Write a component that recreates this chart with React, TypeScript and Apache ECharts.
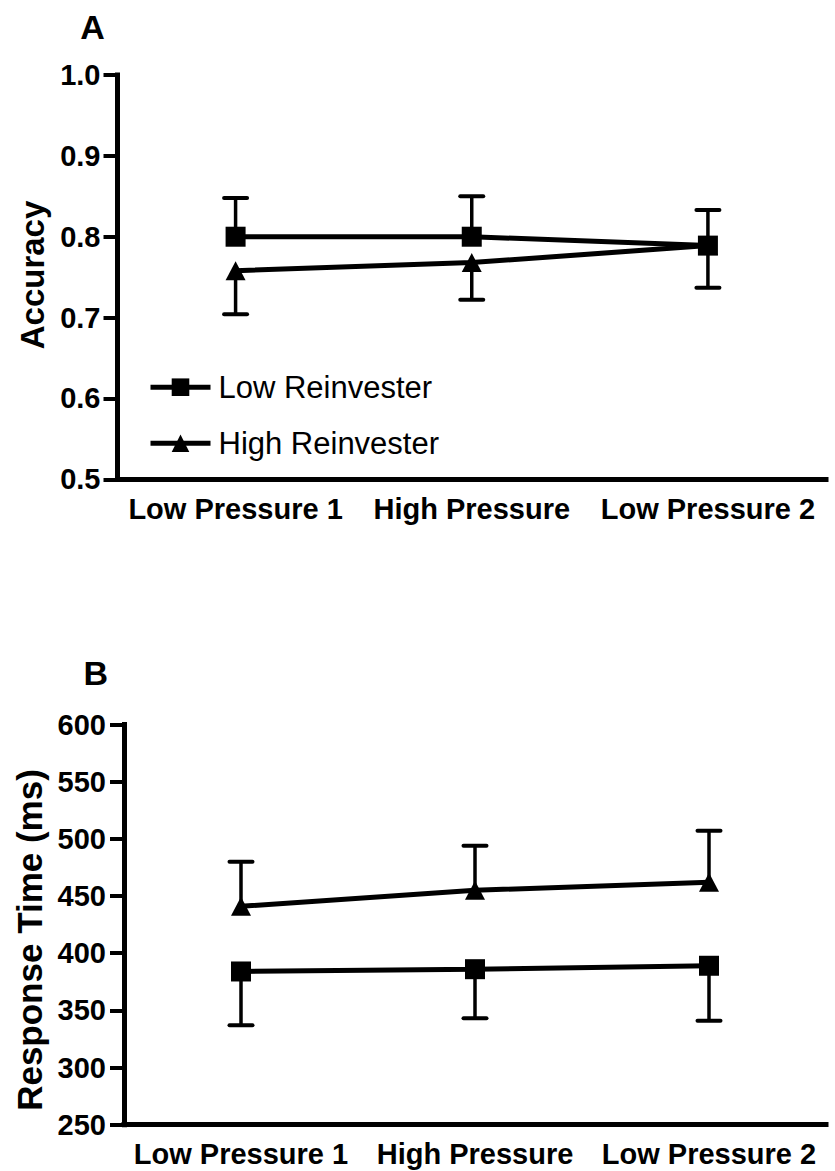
import React, { useEffect, useRef } from "react";
import * as echarts from "echarts";

const FONT = "'Liberation Sans', Arial, sans-serif";

const categories = ["Low Pressure 1", "High Pressure", "Low Pressure 2"];
const seriesNames = ["Low Reinvester", "High Reinvester"];

// Panel A: Accuracy
const accuracyLow = [0.8, 0.8, 0.789];
const accuracyLowErr = [0.048, 0.05, 0.044];
const accuracyHigh = [0.758, 0.768, 0.789];
const accuracyHighErr = [0.054, 0.046, 0.052];
const accuracyAxis = { min: 0.5, max: 1.0, interval: 0.1 };

// Panel B: Response time (ms)
const rtLow = [384, 386, 389];
const rtLowErr = [47, 43, 48];
const rtHigh = [441, 455, 462];
const rtHighErr = [39, 39, 45];
const rtAxis = { min: 250, max: 600, interval: 50 };

// error bar direction (+1 up, -1 down)
const accuracyDir = { low: 1, high: -1 };
const rtDir = { low: -1, high: 1 };

const errData = (means: number[], errs: number[], dir: number) =>
  means.map((m, i) => [i, m, m + dir * errs[i]]);

const renderErr = (params: any, api: any) => {
  const x = api.value(0);
  const m = api.value(1);
  const e = api.value(2);
  const p0 = api.coord([x, m]);
  const p1 = api.coord([x, e]);
  const hw = 11.5;
  return {
    type: "group",
    children: [
      {
        type: "line",
        shape: { x1: p0[0], y1: p0[1], x2: p1[0], y2: p1[1] },
        style: { stroke: "#000", lineWidth: 3.5 },
      },
      {
        type: "line",
        shape: { x1: p1[0] - hw, y1: p1[1], x2: p1[0] + hw, y2: p1[1] },
        style: { stroke: "#000", lineWidth: 4, lineCap: "round" },
      },
    ],
  };
};

const makeX = (gridIndex: number) => ({
  type: "category",
  gridIndex,
  data: categories,
  boundaryGap: true,
  axisLine: { lineStyle: { color: "#000", width: 5, cap: "square" } },
  axisTick: { alignWithLabel: true, length: 14, lineStyle: { color: "#000", width: 4 } },
  axisLabel: {
    interval: 0,
    margin: 15,
    color: "#000",
    fontSize: 29,
    fontWeight: "bold",
    fontFamily: FONT,
  },
  splitLine: { show: false },
});

const makeY = (gridIndex: number, ax: any, margin: number, fmt: (v: number) => string) => ({
  type: "value",
  gridIndex,
  min: ax.min,
  max: ax.max,
  interval: ax.interval,
  axisLine: { show: true, lineStyle: { color: "#000", width: 5, cap: "square" } },
  axisTick: { show: true, length: 14, lineStyle: { color: "#000", width: 4 } },
  axisLabel: {
    margin,
    color: "#000",
    fontSize: 29,
    fontWeight: "bold",
    fontFamily: FONT,
    formatter: fmt,
  },
  splitLine: { show: false },
});

const lineSeries = (name: string, data: number[], idx: number, symbol: string, size: any) => ({
  type: "line",
  name,
  xAxisIndex: idx,
  yAxisIndex: idx,
  data,
  symbol,
  symbolSize: size,
  z: 3,
  itemStyle: { color: "#000" },
  lineStyle: { color: "#000", width: 5 },
});

const errSeries = (name: string, data: number[][], idx: number) => ({
  type: "custom",
  name,
  xAxisIndex: idx,
  yAxisIndex: idx,
  data,
  encode: { x: 0, y: 1 },
  renderItem: renderErr,
  z: 2,
  silent: true,
});

export default function App() {
  const ref = useRef<HTMLDivElement>(null);
  useEffect(() => {
    if (!ref.current) return;
    const chart = echarts.init(ref.current, undefined, { renderer: "svg" });
    chart.setOption({
      animation: false,
      backgroundColor: "#fff",
      textStyle: { fontFamily: FONT },
      grid: [
        { left: 117.5, top: 75, right: 9, height: 404.3, outerBoundsMode: "none" },
        { left: 124, top: 724.5, right: 9, height: 400.2, outerBoundsMode: "none" },
      ],
      xAxis: [makeX(0), makeX(1)],
      yAxis: [
        makeY(0, accuracyAxis, 17, (v: number) => v.toFixed(1)),
        makeY(1, rtAxis, 18, (v: number) => String(Math.round(v))),
      ],
      legend: {
        data: seriesNames,
        orient: "vertical",
        left: 148,
        top: 371.7,
        padding: 0,
        itemGap: 25,
        itemWidth: 60,
        itemHeight: 22,
        lineStyle: { width: 5, color: "#000" },
        textStyle: { fontSize: 31, color: "#000", fontFamily: FONT, padding: [0, 0, 0, 3] },
        selectedMode: false,
      },
      graphic: [
        {
          type: "text",
          x: 92.5,
          y: 26.5,
          style: {
            text: "A",
            fill: "#000",
            font: `bold 34px ${FONT}`,
            textAlign: "center",
            textVerticalAlign: "middle",
            align: "center",
            verticalAlign: "middle",
          },
        },
        {
          type: "text",
          x: 95.7,
          y: 673.2,
          style: {
            text: "B",
            fill: "#000",
            font: `bold 34px ${FONT}`,
            textAlign: "center",
            textVerticalAlign: "middle",
            align: "center",
            verticalAlign: "middle",
          },
        },
        {
          type: "text",
          x: 32,
          y: 275,
          rotation: Math.PI / 2,
          style: {
            text: "Accuracy",
            fill: "#000",
            font: `bold 33px ${FONT}`,
            textAlign: "center",
            textVerticalAlign: "middle",
            align: "center",
            verticalAlign: "middle",
          },
        },
        {
          type: "text",
          x: 29.6,
          y: 940,
          rotation: Math.PI / 2,
          style: {
            text: "Response Time (ms)",
            fill: "#000",
            font: `bold 35px ${FONT}`,
            textAlign: "center",
            textVerticalAlign: "middle",
            align: "center",
            verticalAlign: "middle",
          },
        },
      ],
      series: [
        errSeries("errA-low", errData(accuracyLow, accuracyLowErr, accuracyDir.low), 0),
        errSeries("errA-high", errData(accuracyHigh, accuracyHighErr, accuracyDir.high), 0),
        errSeries("errB-low", errData(rtLow, rtLowErr, rtDir.low), 1),
        errSeries("errB-high", errData(rtHigh, rtHighErr, rtDir.high), 1),
        lineSeries(seriesNames[1], accuracyHigh, 0, "triangle", [20, 19]),
        lineSeries(seriesNames[0], accuracyLow, 0, "rect", 20),
        lineSeries(seriesNames[1], rtHigh, 1, "triangle", [20, 19]),
        lineSeries(seriesNames[0], rtLow, 1, "rect", 20),
      ],
    });
    return () => chart.dispose();
  }, []);
  return (
    <div
      ref={ref}
      style={{ position: "absolute", left: 0, top: 0, width: 835, height: 1171, background: "#fff" }}
    />
  );
}
